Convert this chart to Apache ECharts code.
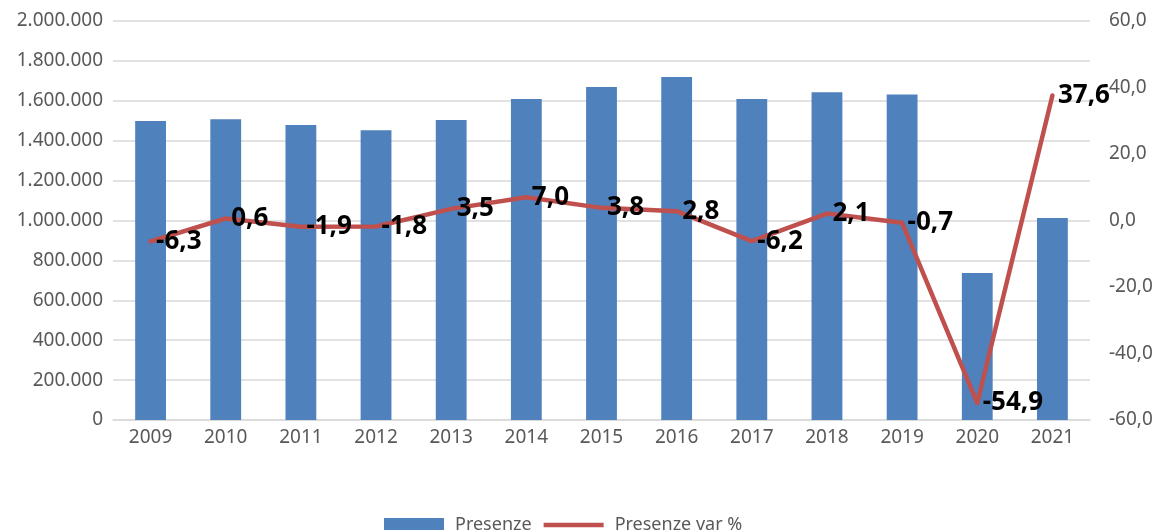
<!DOCTYPE html>
<html>
<head>
<meta charset="utf-8">
<script src="https://cdn.jsdelivr.net/npm/echarts@6/dist/echarts.min.js"></script>
<style>
  html, body { margin: 0; padding: 0; background: #fff; }
  #chart { width: 1161px; height: 530px; }
</style>
</head>
<body>
<div id="chart"></div>
<script>
// dati
var anni = ["2009", "2010", "2011", "2012", "2013", "2014", "2015", "2016", "2017", "2018", "2019", "2020", "2021"];
var presenze = [1499000, 1508000, 1479000, 1453000, 1504000, 1609000, 1669000, 1719000, 1609000, 1643000, 1632000, 737000, 1013000];
var varPerc = [-6.3, 0.6, -1.9, -1.8, 3.5, 7.0, 3.8, 2.8, -6.2, 2.1, -0.7, -54.9, 37.6];

var font = "Noto Sans";
var grigio = "#595959";

function migliaia(v) {
  return String(v).replace(/\B(?=(\d{3})+(?!\d))/g, ".");
}
function decimale(v) {
  return Number(v).toFixed(1).replace(".", ",");
}

var myChart = echarts.init(document.getElementById("chart"));
myChart.setOption({
  animation: false,
  textStyle: { fontFamily: font },
  grid: { left: 113, right: 71, top: 21, bottom: 110 },
  legend: {
    top: 516,
    left: 384,
    padding: 0,
    itemWidth: 60,
    itemHeight: 14,
    itemGap: 12,
    textStyle: { color: grigio, fontSize: 18, fontFamily: font, padding: [0, 0, 0, 6] },
    data: [
      { name: "Presenze", icon: "rect" },
      { name: "Presenze var %", icon: "path://M0,0 L60,0 L60,4.5 L0,4.5 Z" }
    ]
  },
  xAxis: {
    type: "category",
    data: anni,
    axisTick: { show: false },
    axisLine: { lineStyle: { color: "#D9D9D9", width: 1.5 } },
    axisLabel: { color: grigio, fontSize: 19, margin: 8 }
  },
  yAxis: [
    {
      type: "value",
      min: 0,
      max: 2000000,
      interval: 200000,
      axisLabel: { color: grigio, fontSize: 19, margin: 10, formatter: migliaia },
      splitLine: { lineStyle: { color: "#D9D9D9", width: 1.5 } },
      axisLine: { show: false },
      axisTick: { show: false }
    },
    {
      type: "value",
      min: -60,
      max: 60,
      interval: 20,
      axisLabel: { color: grigio, fontSize: 19, margin: 19, formatter: decimale },
      splitLine: { show: false },
      axisLine: { show: false },
      axisTick: { show: false }
    }
  ],
  series: [
    {
      name: "Presenze",
      type: "bar",
      barWidth: "41%",
      data: presenze,
      itemStyle: { color: "#4F81BD" }
    },
    {
      name: "Presenze var %",
      type: "line",
      yAxisIndex: 1,
      data: varPerc,
      symbol: "circle",
      symbolSize: 1,
      showSymbol: true,
      lineStyle: { color: "#C0504D", width: 4.5, join: "round", cap: "round" },
      itemStyle: { color: "#C0504D" },
      label: {
        show: true,
        position: "right",
        distance: 5,
        color: "#000",
        fontSize: 26,
        fontWeight: "bold",
        fontFamily: font,
        formatter: function (p) { return decimale(p.value); }
      }
    }
  ]
});
window.addEventListener("resize", function () {
  myChart.resize();
});
</script>
</body>
</html>
